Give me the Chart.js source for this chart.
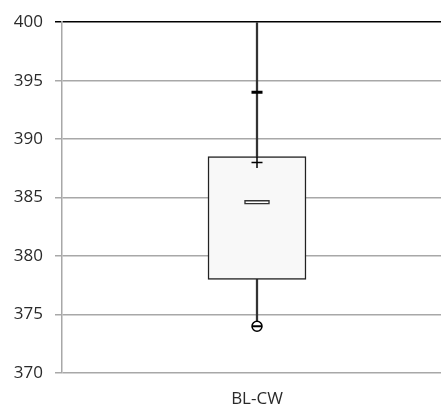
<!DOCTYPE html>
<html>
<head>
  <title>BL-CW box plot</title>
  <script src="https://cdn.jsdelivr.net/npm/chart.js"></script>
  <style>
    body { margin: 0; background: #fff; }
    #wrap { width: 441px; height: 408px; position: relative; }
  </style>
</head>
<body>
  <div id="wrap"><canvas id="boxChart"></canvas></div>

  <script>
    // values
    const categories = ['BL-CW'];
    const boxLow = [378];
    const boxHigh = [388.5];
    const whiskerLow = [374];
    const whiskerHigh = [400];
    const meanValue = [384.6];
    const dashMark = [394];
    const plusMark = [388];
    const minMark = [374];
    const yMin = 370, yMax = 400, yStep = 5;

    const meanHalf = 0.17;

    Chart.defaults.font.family = "'Open Sans', sans-serif";
    Chart.defaults.font.size = 17;
    Chart.defaults.color = '#2a2a2a';

    const pointSet = (data, style, radius, width, fill) => ({
      type: 'line',
      data: data,
      showLine: false,
      pointStyle: style,
      pointRadius: radius,
      pointBorderWidth: width,
      pointBorderColor: '#000',
      pointBackgroundColor: fill || '#000'
    });

    // the plot area runs a little past the right edge of the picture
    const widenPlot = {
      id: 'widenPlot',
      afterLayout(chart) {
        const x = chart.scales.x;
        x.right += 11;
        x.width += 11;
        x.configure();
      }
    };

    const ctx = document.getElementById('boxChart').getContext('2d');
    new Chart(ctx, {
      type: 'bar',
      data: {
        labels: categories,
        datasets: [
          pointSet(dashMark, 'line', 5.5, 3),
          pointSet(plusMark, 'cross', 5.5, 1.5),
          pointSet(minMark, 'line', 5, 2),
          pointSet(minMark, 'circle', 5, 1.5, '#fff'),
          {
            data: meanValue.map(v => [v - meanHalf, v + meanHalf]),
            backgroundColor: '#fff',
            borderColor: '#333',
            borderWidth: 1.5,
            borderSkipped: false,
            barThickness: 25,
            grouped: false
          },
          {
            data: boxLow.map((v, i) => [v, boxHigh[i]]),
            backgroundColor: '#f8f8f8',
            borderColor: '#222',
            borderWidth: 1.5,
            borderSkipped: false,
            barThickness: 98,
            grouped: false
          },
          {
            data: whiskerLow.map((v, i) => [v, whiskerHigh[i]]),
            backgroundColor: '#333',
            borderWidth: 0,
            barThickness: 1.6,
            grouped: false
          }
        ]
      },
      options: {
        responsive: true,
        maintainAspectRatio: false,
        devicePixelRatio: 1,
        animation: false,
        layout: { autoPadding: false, padding: { top: 22, right: 0, left: 0, bottom: 0 } },
        plugins: { legend: { display: false }, tooltip: { enabled: false } },
        scales: {
          x: {
            grid: { display: false },
            border: { display: false },
            ticks: { padding: 8 },
            afterFit: s => { s.height = 35; }
          },
          y: {
            min: yMin,
            max: yMax,
            ticks: { stepSize: yStep, padding: 12 },
            grid: {
              color: c => c.tick && c.tick.value === yMax ? '#000' : '#a8a8a8',
              lineWidth: 1.5,
              tickLength: 7
            },
            border: { color: '#a8a8a8', width: 1.5 },
            afterFit: s => { s.width = 62; }
          }
        }
      },
      plugins: [widenPlot]
    });
  </script>
</body>
</html>
